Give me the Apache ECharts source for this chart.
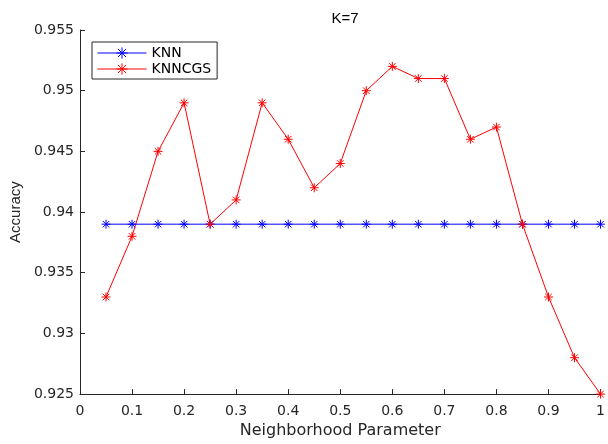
<!DOCTYPE html>
<html><head><meta charset="utf-8">
<script src="https://cdn.jsdelivr.net/npm/echarts@6/dist/echarts.min.js"></script>
<style>html,body{margin:0;padding:0;background:#fff}#c{width:608px;height:444px}</style>
</head><body><div id="c"></div>
<script>
const xValues = [0.05,0.1,0.15,0.2,0.25,0.3,0.35,0.4,0.45,0.5,0.55,0.6,0.65,0.7,0.75,0.8,0.85,0.9,0.95,1.0];
const knn = [0.939,0.939,0.939,0.939,0.939,0.939,0.939,0.939,0.939,0.939,0.939,0.939,0.939,0.939,0.939,0.939,0.939,0.939,0.939,0.939];
const knncgs = [0.933,0.938,0.945,0.949,0.939,0.941,0.949,0.946,0.942,0.944,0.950,0.952,0.951,0.951,0.946,0.947,0.939,0.933,0.928,0.925];
const seriesNames = ['KNN','KNNCGS'];
const title = 'K=7';
const xName = 'Neighborhood Parameter';
const yName = 'Accuracy';

const star = 'path://M0,-5L0,5M-5,0L5,0M-3.6,-3.6L3.6,3.6M-3.6,3.6L3.6,-3.6';
const wide = 'DejaVu Sans, Verdana, sans-serif';
const narrow = 'Liberation Sans, Arial, Helvetica, sans-serif';
const txt = '#262626';
function mk(name, vals, col){
  return {
    name, type:'line', data: xValues.map((x,i)=>[x, vals[i]]),
    symbol: star, symbolSize: 9, showSymbol:true,
    lineStyle:{color:col, width:1},
    itemStyle:{color:'transparent', borderColor:col, borderWidth:1},
    emphasis:{disabled:true}, animation:false
  };
}
const chart = echarts.init(document.getElementById('c'));
chart.setOption({
  animation:false,
  backgroundColor:'#fff',
  title:{text:title, left:340, top:6, textAlign:'center', textStyle:{fontFamily:narrow, fontSize:15, fontWeight:'normal', color:'#000'}},
  legend:{
    orient:'vertical', left:92, top:42, data:seriesNames,
    borderColor:'#262626', borderWidth:1, backgroundColor:'#fff',
    padding:[4,6,3,5], itemGap:2, itemWidth:49, itemHeight:14,
    lineStyle:{width:1},
    itemStyle:{borderWidth:1},
    textStyle:{fontFamily:wide, fontSize:14, color:'#000'}
  },
  grid:{left:78, right:5, top:30, bottom:44, containLabel:false},
  xAxis:{
    type:'value', min:0, max:1, interval:0.1,
    name:xName, nameLocation:'middle', nameGap:22,
    nameTextStyle:{fontFamily:wide, fontSize:16, color:txt},
    axisLine:{lineStyle:{color:txt, width:1}},
    axisTick:{inside:true, length:5, lineStyle:{color:txt}},
    axisLabel:{fontFamily:wide, fontSize:14, color:txt, margin:10},
    splitLine:{show:false}
  },
  yAxis:{
    type:'value', min:0.925, max:0.955, interval:0.005,
    name:yName, nameLocation:'middle', nameGap:54,
    nameTextStyle:{fontFamily:narrow, fontSize:15, color:txt},
    axisLine:{show:true, lineStyle:{color:txt, width:1}},
    axisTick:{show:true, inside:true, length:5, lineStyle:{color:txt}},
    axisLabel:{fontFamily:wide, fontSize:14, color:txt, margin:6,
      formatter: v => String(parseFloat(v.toFixed(3)))},
    splitLine:{show:false}
  },
  series:[mk(seriesNames[0], knn, '#0000ff'), mk(seriesNames[1], knncgs, '#ff0000')]
});
</script></body></html>
